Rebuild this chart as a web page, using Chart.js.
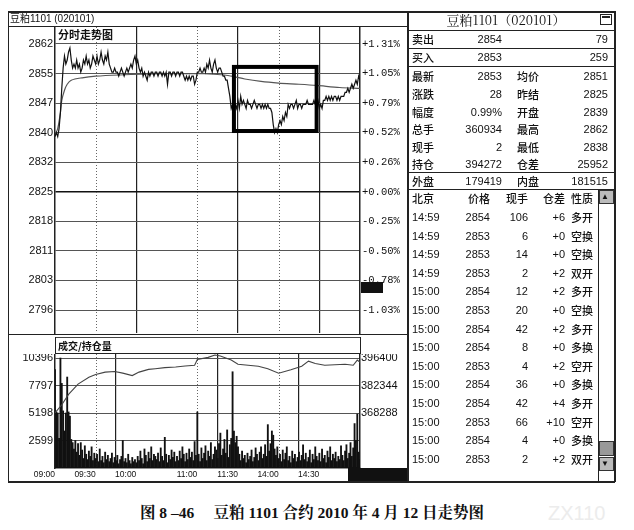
<!DOCTYPE html>
<html>
<head>
<meta charset="utf-8">
<script src="https://cdn.jsdelivr.net/npm/chart.js@4.4.1/dist/chart.umd.min.js"></script>
<style>
    body { margin: 0; width: 634px; height: 530px; background: #fff; position: relative; overflow: hidden;
           font-family: "Liberation Sans", "Noto Sans CJK SC", sans-serif; color: #111; }
    canvas { position: absolute; }
    .ln { position: absolute; background: #222; }
    .t { position: absolute; font-size: 11px; line-height: 14px; white-space: nowrap; }
    .cn { font-family: "Noto Sans CJK SC", sans-serif; font-weight: 500; }
    .hd { font-family: "Noto Sans CJK SC", sans-serif; font-weight: 700; font-size: 10.5px; }
</style>
</head>
<body>
<canvas id="priceChart" width="400" height="308" style="left:8px;top:27px"></canvas>
<canvas id="volChart" width="400" height="128" style="left:8px;top:354px"></canvas>

<script>
// Time axis: trading minutes from 09:00 (10:15-10:30 and 11:30-13:30 removed)
const timeTicks = [0, 30, 60, 105, 135, 165, 195];
const timeLabels = ['09:00', '09:30', '10:00', '11:00', '11:30', '14:00', '14:30'];
const solidMinutes = [60, 135, 195];
const dottedMinutes = [30, 105, 165];

// Price panel ticks
const priceTicks = [2862, 2854.67, 2847.33, 2840, 2832.67, 2825.33, 2818, 2810.67, 2803.33, 2796];
const priceLabels = ['2862', '2855', '2847', '2840', '2832', '2825', '2818', '2811', '2803', '2796'];
const pctLabels = ['+1.31%', '+1.05%', '+0.79%', '+0.52%', '+0.26%', '+0.00%', '-0.25%', '-0.50%', '-0.78%', '-1.03%'];

// Last price, one value per trading minute (0..225)
const priceVals = [
    2839, 2840, 2839, 2841, 2845, 2851, 2856, 2859, 2857, 2858,
    2860, 2861, 2858, 2856, 2857, 2856, 2858, 2856, 2857, 2855,
    2856, 2858, 2857, 2859, 2857, 2858, 2856, 2857, 2859, 2858,
    2857, 2859, 2857, 2858, 2860, 2858, 2857, 2859, 2858, 2860,
    2857, 2856, 2855, 2855, 2856, 2855, 2855, 2854, 2855, 2856,
    2855, 2854, 2855, 2856, 2855, 2856, 2857, 2856, 2858, 2859,
    2857, 2858, 2856, 2855, 2856, 2854, 2855, 2854, 2853, 2855,
    2854, 2855, 2855, 2854, 2855, 2855, 2854, 2855, 2855, 2854,
    2855, 2854, 2855, 2852, 2855, 2855, 2854, 2855, 2855, 2854,
    2855, 2855, 2854, 2855, 2855, 2854, 2853, 2854, 2853, 2854,
    2853, 2854, 2854, 2852, 2853, 2855, 2855, 2856, 2855, 2855,
    2856, 2855, 2857, 2856, 2858, 2856, 2855, 2857, 2858, 2856,
    2855, 2856, 2856, 2855, 2854, 2854, 2853, 2853, 2851, 2849,
    2846, 2847, 2845, 2847, 2846, 2848, 2846, 2849, 2847, 2848,
    2847, 2846, 2848, 2847, 2847, 2846, 2847, 2848, 2847, 2846,
    2847, 2847, 2846, 2847, 2846, 2847, 2846, 2847, 2846, 2846,
    2845, 2842, 2840, 2841, 2840, 2842, 2843, 2842, 2844, 2843,
    2845, 2844, 2847, 2846, 2847, 2847, 2846, 2847, 2848, 2846,
    2847, 2847, 2846, 2847, 2847, 2847, 2848, 2847, 2847, 2847,
    2847, 2848, 2847, 2847, 2848, 2846, 2847, 2846, 2848, 2848,
    2849, 2848, 2849, 2848, 2849, 2848, 2849, 2849, 2848, 2849,
    2848, 2849, 2849, 2849, 2850, 2850, 2851, 2850, 2851, 2852,
    2851, 2852, 2853, 2852, 2854, 2853
];

// Average price line
const avgMinutes = [0, 2, 4, 5, 7, 9, 12, 20, 30, 47, 76, 110, 125, 132, 140, 152, 165, 180, 193, 210, 225];
const avgVals = [2839.5, 2841, 2845, 2848, 2850.5, 2852, 2853, 2853.6, 2854.0, 2854.3, 2854.6, 2854.6,
                 2854.3, 2853.9, 2853.3, 2852.7, 2852.3, 2852.0, 2851.7, 2851.2, 2851.0];

// Highlight box (minutes, prices)
const boxMinutes = [132, 193];
const boxPrices = [2840.4, 2856.3];

// Volume per minute
const volVals = [
    9300, 5300, 5200, 2800, 10396, 8000, 5400, 3500, 5200, 8600, 5300, 4900, 2700, 2400, 1800,
    2600, 1500, 2300, 1200, 2400, 1700, 900, 2100, 1300, 800, 1600, 1100, 2000, 700, 1400,
    900, 1300, 600, 1800, 700, 1100, 500, 1500, 800, 1200, 600, 900, 1400, 500, 1000,
    700, 1200, 400, 800, 1100, 2600, 600, 900, 500, 1300, 700, 400, 1000, 600, 800,
    500, 1100, 700, 1600, 900, 400, 1800, 1200, 600, 1500, 900, 2000, 700, 1300, 1100,
    800, 1400, 600, 1900, 1100, 700, 2900, 1300, 500, 1200, 800, 1700, 1000, 1500, 600,
    1100, 700, 1600, 900, 2000, 1300, 600, 1400, 800, 1800, 1000, 1500, 700, 2500, 1200,
    5300, 1300, 600, 1900, 900, 1400, 2100, 700, 1600, 1100, 2400, 800, 1300, 2000, 1700,
    900, 2300, 3300, 1200, 1800, 2700, 1400, 3600, 1000, 2200, 2800, 9100, 3500, 2400, 3000,
    2000, 1300, 700, 1600, 900, 1200, 500, 1400, 800, 1100, 1700, 600, 1000, 1900, 1300,
    700, 1500, 2000, 900, 1300, 2200, 1100, 4100, 1600, 2300, 3500, 3100, 1800, 1200, 2000,
    900, 1300, 600, 1700, 800, 1400, 2000, 700, 1100, 500, 1600, 900, 1300, 600, 1000,
    1500, 700, 1200, 2200, 800, 1400, 600, 1000, 1700, 500, 1300, 800, 2000, 1100, 700,
    1400, 600, 1800, 900, 1200, 500, 1600, 1000, 2000, 700, 1300, 900, 1500, 600, 1100,
    800, 2100, 1200, 700, 1600, 2200, 900, 1400, 2400, 1100, 1900, 4200, 2600, 5100, 1500, 800
];
const volTicks = [10396, 7797, 5198, 2599];
const volLabels = ['10396', '7797', '5198', '2599'];

// Open interest line
const oiMinutes = [0, 5, 10, 17, 25, 30, 37, 44, 50, 57, 62, 69, 74, 81, 89, 96, 103, 105, 113, 118, 122,
                   130, 135, 150, 157, 165, 174, 182, 187, 192, 199, 214, 220, 223, 225];
const oiVals = [368320, 372500, 377800, 383050, 386560, 387970, 389200, 389550, 388670, 387440, 389200,
                390600, 390950, 391480, 391830, 392360, 392710, 395700, 396750, 397980, 397450,
                395350, 393240, 392180, 390950, 388670, 390430, 392180, 394820, 393590, 392710,
                393240, 392710, 395350, 394272];
const oiTicks = [396400, 382344, 368288];
const oiLabels = ['396400', '382344', '368288'];

// Quote board
const quoteRows = [
    ['卖出', '2854', '', '79'],
    ['买入', '2853', '', '259'],
    ['最新', '2853', '均价', '2851'],
    ['涨跌', '28', '昨结', '2825'],
    ['幅度', '0.99%', '开盘', '2839'],
    ['总手', '360934', '最高', '2862'],
    ['现手', '2', '最低', '2838'],
    ['持仓', '394272', '仓差', '25952'],
    ['外盘', '179419', '内盘', '181515']
];
const tradeHeader = ['北京', '价格', '现手', '仓差', '性质'];
const tradeTimes = ['14:59', '14:59', '14:59', '14:59', '15:00', '15:00', '15:00', '15:00', '15:00', '15:00', '15:00', '15:00', '15:00', '15:00'];
const tradePrices = [2854, 2853, 2853, 2853, 2854, 2853, 2854, 2854, 2853, 2854, 2854, 2853, 2854, 2853];
const tradeVols = [106, 6, 14, 2, 12, 20, 42, 8, 4, 36, 42, 66, 4, 2];
const tradeDiffs = ['+6', '+0', '+0', '+2', '+2', '+0', '+2', '+0', '+2', '+0', '+4', '+10', '+0', '+2'];
const tradeTypes = ['多开', '空换', '空换', '双开', '多开', '空换', '多开', '多换', '空开', '多换', '多开', '空开', '多换', '双开'];

// ---------- helpers for the static frame ----------
function line(x, y, w, h, color) {
    const d = document.createElement('div');
    d.className = 'ln';
    d.style.cssText = `left:${x}px;top:${y}px;width:${w}px;height:${h}px;` + (color ? `background:${color};` : '');
    document.body.appendChild(d);
    return d;
}

function put(text, x, y, align, cls, extra) {
    const d = document.createElement('div');
    d.className = 't ' + (cls || '');
    d.textContent = text;
    if (align === 'right') {
        d.style.left = (x - 140) + 'px';
        d.style.width = '140px';
        d.style.textAlign = 'right';
    } else if (align === 'center') {
        d.style.left = (x - 200) + 'px';
        d.style.width = '400px';
        d.style.textAlign = 'center';
    } else {
        d.style.left = x + 'px';
    }
    d.style.top = (y - 7) + 'px';
    if (extra) d.style.cssText += extra;
    document.body.appendChild(d);
    return d;
}

// outer frame
line(8, 11, 607, 1.5);
line(8, 481, 607, 1.5);
line(7.5, 11, 1.5, 471);
line(407, 11, 1.5, 471);
line(614, 11, 1.5, 471);
// left panel: title bar, panel separator, volume header band
line(8, 26, 400, 1.2);
line(8, 333.5, 400, 1.5);
line(55, 337, 305, 1, '#444');
line(55, 353, 305, 1.2);
line(55, 337, 1.2, 17);
line(359.5, 337, 1.2, 17);
put('豆粕1101 (020101)', 10, 19, 'left', '', 'font-size:10px;');
put('分时走势图', 58, 34, 'left', 'hd', 'font-size:11px;');
put('成交/持仓量', 58, 345.5, 'left', 'hd', 'font-size:10px;');
// black marks on the left panel
line(361, 282, 22, 11, '#111');
line(348, 468, 59, 13, '#111');

// right panel rules
[30, 48, 66, 172, 189].forEach(y => line(408, y, 206, 1.3));
put('豆粕1101（020101）', 506, 20, 'center', 'cn', 'font-size:13px;font-weight:400;font-family:"Noto Serif CJK SC","Noto Sans CJK SC";');
// window icon
const icon = line(600, 14, 12, 11, '#fff');
icon.style.border = '1.5px solid #222';
icon.style.boxSizing = 'border-box';
line(602, 16, 8, 2, '#222');

const quoteY = [39, 57, 76, 94, 112, 129, 147, 164, 180.5];
quoteRows.forEach((r, i) => {
    const y = quoteY[i];
    put(r[0], 412, y, 'left', 'cn');
    put(r[1], 502, y, 'right');
    if (r[2]) put(r[2], 517, y, 'left', 'cn');
    put(r[3], 608, y, 'right');
});

// trade ticker
put(tradeHeader[0], 412, 197.5, 'left', 'cn');
put(tradeHeader[1], 490, 197.5, 'right', 'cn');
put(tradeHeader[2], 528, 197.5, 'right', 'cn');
put(tradeHeader[3], 565, 197.5, 'right', 'cn');
put(tradeHeader[4], 571, 197.5, 'left', 'cn');
tradeTimes.forEach((t, i) => {
    const y = 217 + i * 18.6;
    put(t, 412, y, 'left');
    put(String(tradePrices[i]), 490, y, 'right');
    put(String(tradeVols[i]), 528, y, 'right');
    put(tradeDiffs[i], 565, y, 'right');
    put(tradeTypes[i], 571, y, 'left', 'cn');
});

// scrollbar
line(598, 189, 1.2, 292);
const upBtn = line(599, 190, 15, 14, '#bbb');
upBtn.style.border = '1px solid #333';
upBtn.style.boxSizing = 'border-box';
const thumb = line(599, 441, 15, 15, '#999');
thumb.style.border = '1px solid #333';
thumb.style.boxSizing = 'border-box';
const dnBtn = line(599, 457, 15, 14, '#bbb');
dnBtn.style.border = '1px solid #333';
dnBtn.style.boxSizing = 'border-box';
put('▲', 601, 197, 'left', '', 'font-size:8px;');
put('▼', 601, 464, 'left', '', 'font-size:8px;');

// caption
put('图 8 –46　 豆粕 1101 合约 2010 年 4 月 12 日走势图', 312, 512, 'center', '',
    'font-family:"Liberation Serif","Noto Serif CJK SC","Noto Sans CJK SC";font-weight:700;font-size:15.5px;line-height:16px;');
put('ZX110', 548, 512, 'left', '', 'font-size:20px;line-height:16px;color:#ececec;font-weight:300;');

// ---------- chart plumbing ----------
const tickFont = { family: 'Liberation Sans', size: 11 };
const pctFont = { family: 'Liberation Mono', size: 10.5 };

function fixWidth(w) {
    return s => { s.width = w; s.paddingTop = 0; s.paddingBottom = 0; };
}
function fixHeight(h) {
    return s => { s.height = h; s.paddingLeft = 0; s.paddingRight = 0; };
}
function useTicks(values) {
    return s => { s.ticks = values.map(v => ({ value: v })); };
}

// dotted vertical grid lines for the half-hour marks
const dottedGrid = {
    id: 'dottedGrid',
    beforeDatasetsDraw(chart) {
        const { ctx, chartArea, scales } = chart;
        ctx.save();
        ctx.strokeStyle = '#666';
        ctx.lineWidth = 1;
        ctx.setLineDash([1, 2]);
        dottedMinutes.forEach(m => {
            const x = Math.round(scales.x.getPixelForValue(m)) + 0.5;
            ctx.beginPath();
            ctx.moveTo(x, chartArea.top);
            ctx.lineTo(x, chartArea.bottom);
            ctx.stroke();
        });
        ctx.restore();
    }
};

// thick highlight rectangle on the price panel
const focusBox = {
    id: 'focusBox',
    afterDatasetsDraw(chart) {
        const { ctx, scales } = chart;
        const x1 = scales.x.getPixelForValue(boxMinutes[0]);
        const x2 = scales.x.getPixelForValue(boxMinutes[1]);
        const y1 = scales.y.getPixelForValue(boxPrices[1]);
        const y2 = scales.y.getPixelForValue(boxPrices[0]);
        ctx.save();
        ctx.strokeStyle = '#000';
        ctx.lineWidth = 4;
        ctx.strokeRect(x1, y1, x2 - x1, y2 - y1);
        ctx.restore();
    }
};

const xGrid = {
    color: ctx => solidMinutes.includes(ctx.tick && ctx.tick.value) ? '#222' : 'rgba(0,0,0,0)',
    lineWidth: 1.2,
    drawTicks: false
};

new Chart(document.getElementById('priceChart'), {
    type: 'line',
    data: {
        datasets: [
            {
                data: priceVals.map((v, i) => ({ x: i, y: v })),
                borderColor: '#111', borderWidth: 1.2, pointRadius: 0, tension: 0
            },
            {
                data: avgMinutes.map((m, i) => ({ x: m, y: avgVals[i] })),
                borderColor: '#555', borderWidth: 1.2, pointRadius: 0, tension: 0.3
            }
        ]
    },
    options: {
        responsive: false, animation: false, events: [],
        layout: { padding: 0, autoPadding: false },
        plugins: { legend: { display: false }, tooltip: { enabled: false } },
        scales: {
            x: {
                type: 'linear', min: 0, max: 225,
                afterBuildTicks: useTicks(timeTicks),
                afterFit: fixHeight(2),
                ticks: { display: false },
                grid: xGrid,
                border: { display: false }
            },
            y: {
                position: 'left', min: 2790.3, max: 2866.2,
                afterBuildTicks: useTicks(priceTicks),
                afterFit: fixWidth(47),
                ticks: { callback: (v, i) => priceLabels[i], font: tickFont, color: '#111', padding: 2 },
                grid: {
                    color: ctx => ctx.index === 5 ? '#111' : '#555',
                    lineWidth: ctx => ctx.index === 5 ? 1.6 : 1,
                    drawTicks: false
                },
                border: { color: '#222', width: 1.5 }
            },
            y2: {
                position: 'right', min: 2790.3, max: 2866.2,
                afterBuildTicks: useTicks(priceTicks),
                afterFit: fixWidth(48),
                ticks: { callback: (v, i) => pctLabels[i], font: pctFont, color: '#111', padding: 2 },
                grid: { display: false, drawTicks: false },
                border: { color: '#222', width: 1.5 }
            }
        }
    },
    plugins: [dottedGrid, focusBox]
});

new Chart(document.getElementById('volChart'), {
    type: 'bar',
    data: {
        datasets: [
            {
                type: 'line', yAxisID: 'y2', order: 0,
                data: oiMinutes.map((m, i) => ({ x: m, y: oiVals[i] })),
                borderColor: '#444', borderWidth: 1.1, pointRadius: 0, tension: 0
            },
            {
                type: 'bar', yAxisID: 'y', order: 1,
                data: volVals.map((v, i) => ({ x: i, y: v })),
                backgroundColor: '#111', barThickness: 1.2, grouped: false
            }
        ]
    },
    options: {
        responsive: false, animation: false, events: [],
        layout: { padding: 0, autoPadding: false },
        plugins: { legend: { display: false }, tooltip: { enabled: false } },
        scales: {
            x: {
                type: 'linear', min: 0, max: 225, offset: false,
                afterBuildTicks: useTicks(timeTicks),
                afterFit: fixHeight(14),
                ticks: {
                    callback: (v, i) => timeLabels[i], autoSkip: false, maxRotation: 0,
                    align: 'end', padding: 2, font: { family: 'Liberation Sans', size: 8.5 }, color: '#111'
                },
                grid: xGrid,
                border: { color: '#222', width: 1.5 }
            },
            y: {
                position: 'left', min: 0, max: 10778,
                afterBuildTicks: useTicks(volTicks),
                afterFit: fixWidth(47),
                ticks: { callback: (v, i) => volLabels[i], font: tickFont, color: '#111', padding: 2 },
                grid: { color: '#555', lineWidth: 1, drawTicks: false },
                border: { color: '#222', width: 1.5 }
            },
            y2: {
                position: 'right', min: 340176, max: 398466,
                afterBuildTicks: useTicks(oiTicks),
                afterFit: fixWidth(48),
                ticks: { callback: (v, i) => oiLabels[i], font: tickFont, color: '#111', padding: 1 },
                grid: { display: false, drawTicks: false },
                border: { color: '#222', width: 1.5 }
            }
        }
    },
    plugins: [dottedGrid]
});
</script>
</body>
</html>
